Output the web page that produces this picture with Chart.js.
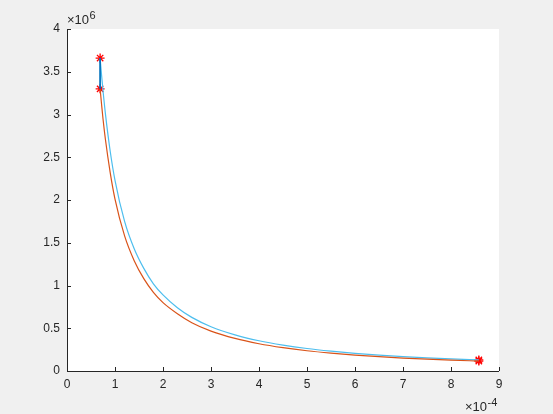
<!DOCTYPE html>
<html>
<head>
<meta charset="utf-8">
<script src="https://cdn.jsdelivr.net/npm/chart.js@4/dist/chart.umd.min.js"></script>
<style>
  html, body { margin: 0; padding: 0; background: #f0f0f0; }
  #wrap { width: 553px; height: 414px; }
</style>
</head>
<body>
<div id="wrap"><canvas id="c" width="553" height="414"></canvas></div>
<script>
// x in units of 1e-4, y in units of 1e6
const xVals = [0.69, 0.72, 0.75, 0.8, 0.9, 1.0, 1.2, 1.4, 1.6, 1.8, 2.0, 2.3, 2.6, 3.0, 3.5, 4.0, 4.5, 5.0, 5.5, 6.0, 6.5, 7.0, 7.5, 8.0, 8.58];
const lowerCurve = [3.30, 3.12, 2.95, 2.71, 2.32, 2.01, 1.58, 1.29, 1.08, 0.92, 0.80, 0.67, 0.565, 0.467, 0.381, 0.319, 0.273, 0.237, 0.209, 0.186, 0.167, 0.151, 0.138, 0.127, 0.116];
const upperCurve = [3.66, 3.46, 3.28, 3.01, 2.57, 2.23, 1.75, 1.43, 1.20, 1.02, 0.89, 0.74, 0.627, 0.518, 0.423, 0.354, 0.303, 0.263, 0.232, 0.206, 0.185, 0.167, 0.153, 0.141, 0.129];
const markX = [0.69, 0.69, 8.58, 8.58];
const markY = [3.66, 3.30, 0.129, 0.116];
const xTicks = [0, 1, 2, 3, 4, 5, 6, 7, 8, 9];
const yTicks = [0, 0.5, 1, 1.5, 2, 2.5, 3, 3.5, 4];

const axisColor = '#262626';
const fontFamily = '"Liberation Sans", Arial, Helvetica, sans-serif';

const toPts = (xs, ys) => xs.map((x, i) => ({ x: x, y: ys[i] }));

// draws "×10" followed by a raised exponent
function expLabel(ctx, x, y, exp) {
  ctx.font = '13px ' + fontFamily;
  ctx.fillText('\u00d710', x, y);
  const w = ctx.measureText('\u00d710').width;
  ctx.font = '11px ' + fontFamily;
  ctx.fillText(exp, x + w + 0.5, y - 5);
}

// inward ticks, axis lines and the exponent labels, MATLAB style
const matlabAxes = {
  id: 'matlabAxes',
  beforeDraw(chart) {
    const ctx = chart.ctx;
    ctx.save();
    ctx.fillStyle = '#f0f0f0';
    ctx.fillRect(0, 0, chart.width, chart.height);
    const a = chart.chartArea;
    ctx.fillStyle = '#ffffff';
    ctx.fillRect(a.left, a.top, a.right - a.left, a.bottom - a.top);
    ctx.restore();
  },
  afterDraw(chart) {
    const ctx = chart.ctx;
    const a = chart.chartArea;
    const xs = chart.scales.x, ys = chart.scales.y;
    ctx.save();
    ctx.strokeStyle = axisColor;
    ctx.lineWidth = 1;
    ctx.beginPath();
    ctx.moveTo(a.left + 0.5, a.top);
    ctx.lineTo(a.left + 0.5, a.bottom + 0.5);
    ctx.lineTo(a.right, a.bottom + 0.5);
    ctx.stroke();
    ctx.beginPath();
    xTicks.forEach(v => {
      const px = Math.round(xs.getPixelForValue(v)) + 0.5;
      ctx.moveTo(px, a.bottom);
      ctx.lineTo(px, a.bottom - 4);
    });
    yTicks.forEach(v => {
      const py = Math.round(ys.getPixelForValue(v)) + 0.5;
      ctx.moveTo(a.left, py);
      ctx.lineTo(a.left + 4, py);
    });
    ctx.stroke();

    ctx.fillStyle = axisColor;
    ctx.textBaseline = 'alphabetic';
    ctx.textAlign = 'left';
    expLabel(ctx, a.left, 24, '6');
    expLabel(ctx, a.right - 34, 411, '-4');
    ctx.restore();
  }
};

new Chart(document.getElementById('c'), {
  type: 'scatter',
  data: {
    datasets: [
      {
        label: 'blue',
        data: toPts([markX[0], markX[1]], [markY[0], markY[1]]),
        showLine: true, borderColor: '#0072BD', borderWidth: 1, pointRadius: 0
      },
      {
        label: 'lower',
        data: toPts(xVals, lowerCurve),
        showLine: true, borderColor: '#D95319', borderWidth: 1.2, pointRadius: 0, cubicInterpolationMode: 'monotone'
      },
      {
        label: 'upper',
        data: toPts(xVals, upperCurve),
        showLine: true, borderColor: '#4DBEEE', borderWidth: 1.2, pointRadius: 0, cubicInterpolationMode: 'monotone'
      },
      {
        label: 'marks',
        data: toPts(markX, markY),
        showLine: false, pointStyle: 'star', pointRadius: 4.5, borderColor: '#ff0000', borderWidth: 1.3, backgroundColor: '#ff0000'
      }
    ]
  },
  options: {
    responsive: false,
    animation: false,
    events: [],
    layout: { padding: { left: 0, top: 29, right: 54, bottom: 0 } },
    plugins: { legend: { display: false }, tooltip: { enabled: false } },
    scales: {
      x: {
        type: 'linear', min: 0, max: 9,
        afterFit(s) { s.height = 43; },
        afterBuildTicks(s) { s.ticks = xTicks.map(v => ({ value: v })); },
        grid: { display: false, drawTicks: false },
        border: { display: false },
        ticks: { color: axisColor, padding: 6, font: { family: fontFamily, size: 12 }, maxRotation: 0, autoSkip: false, callback: v => String(v) }
      },
      y: {
        type: 'linear', min: 0, max: 4,
        afterFit(s) { s.width = 67; },
        afterBuildTicks(s) { s.ticks = yTicks.map(v => ({ value: v })); },
        grid: { display: false, drawTicks: false },
        border: { display: false },
        ticks: { color: axisColor, padding: 7, font: { family: fontFamily, size: 12 }, autoSkip: false, callback: v => String(v) }
      }
    }
  },
  plugins: [matlabAxes]
});
</script>
</body>
</html>
